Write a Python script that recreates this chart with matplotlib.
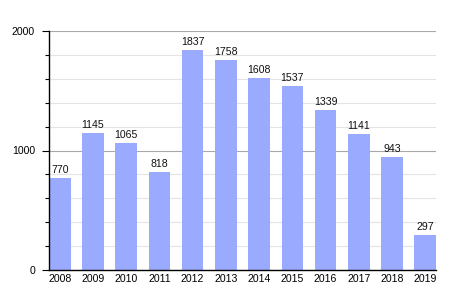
import matplotlib
matplotlib.use("Agg")
import matplotlib.pyplot as plt
from matplotlib.ticker import MultipleLocator

years = ["2008", "2009", "2010", "2011", "2012", "2013", "2014", "2015", "2016", "2017", "2018", "2019"]
values = [770, 1145, 1065, 818, 1837, 1758, 1608, 1537, 1339, 1141, 943, 297]

plt.rcParams['font.family'] = ['Liberation Sans', 'DejaVu Sans']

fig = plt.figure(figsize=(4.64, 3.00), dpi=100)
ax = fig.add_axes([49/464, 0.1, (436-49)/464, (270-31)/300])

w = 0.65
x = list(range(len(years)))
ax.set_axisbelow(True)
ax.yaxis.set_major_locator(MultipleLocator(1000))
ax.yaxis.set_minor_locator(MultipleLocator(200))
ax.grid(axis='y', which='minor', color='#e4e4e4', linewidth=0.8)
ax.grid(axis='y', which='major', color='#a8a8a8', linewidth=0.8)
bars = ax.bar(x, values, width=w, color='#99aaff', zorder=2)
for xi, v in zip(x, values):
    ax.text(xi, v + 25, str(v), ha='center', va='bottom', fontsize=7.6, color='#111111')

ax.set_xlim(-w/2, len(years) - 1 + w/2)
ax.set_ylim(0, 2000)
ax.set_xticks(x)
ax.set_xticklabels(years)
ax.tick_params(axis='x', length=0, labelsize=7.6, pad=3)
ax.tick_params(axis='y', which='major', length=5, width=0.8, labelsize=7.6, pad=5)
ax.tick_params(axis='y', which='minor', length=3, width=0.8)
for s in ['top', 'right']:
    ax.spines[s].set_visible(False)
for s in ['left', 'bottom']:
    ax.spines[s].set_color('black')
    ax.spines[s].set_linewidth(1.0)

fig.savefig("out.png", dpi=100)
